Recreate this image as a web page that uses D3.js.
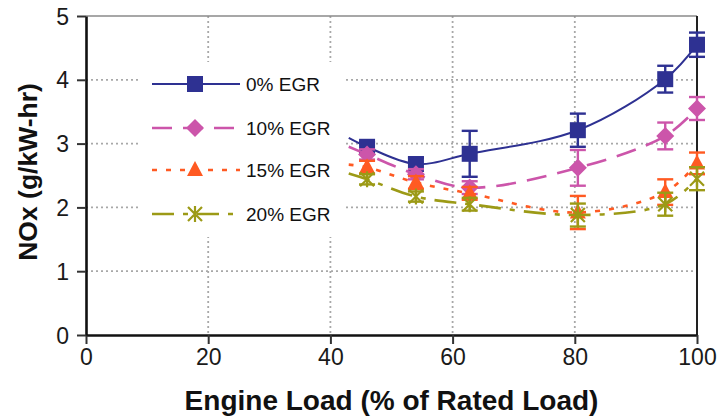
<!DOCTYPE html>
<html>
<head>
<meta charset="utf-8">
<script src="https://cdn.jsdelivr.net/npm/d3@7/dist/d3.min.js"></script>
<style>
  html, body { margin: 0; padding: 0; background: #fff; }
  svg { display: block; font-family: "Liberation Sans", Arial, sans-serif; }
</style>
</head>
<body>
<svg id="chart" width="719" height="416"></svg>
<script>
// Engine load (% of rated load) at each test point
const loads = [46, 54, 62.8, 80.5, 94.8, 100];

// NOx (g/kW-hr) and error half-widths per EGR rate
const nox0  = [2.95, 2.68, 2.84, 3.21, 4.01, 4.55];
const err0  = [0.08, 0.10, 0.36, 0.26, 0.21, 0.19];
const nox10 = [2.83, 2.52, 2.31, 2.62, 3.12, 3.55];
const err10 = [0.08, 0.08, 0.10, 0.28, 0.21, 0.18];
const nox15 = [2.63, 2.39, 2.22, 1.92, 2.24, 2.69];
const err15 = [0.10, 0.10, 0.10, 0.26, 0.20, 0.17];
const nox20 = [2.44, 2.17, 2.05, 1.88, 2.05, 2.45];
const err20 = [0.08, 0.08, 0.10, 0.18, 0.18, 0.18];

// Smoothed curves begin a little before the first measured load
const leadLoad = 43;
const leadNox = [3.09, 2.95, 2.67, 2.53];

const seriesNames = ["0% EGR", "10% EGR", "15% EGR", "20% EGR"];
const xTicks = [0, 20, 40, 60, 80, 100];
const yTicks = [0, 1, 2, 3, 4, 5];

const styles = [
  { color: "#2E3192", dash: null,        width: 2,   marker: "square" },
  { color: "#CC55AA", dash: "20,11",     width: 2.6, marker: "diamond" },
  { color: "#FF5A22", dash: "5,9",       width: 2.6, marker: "triangle" },
  { color: "#9C9A16", dash: "22,9,5,9",  width: 2.6, marker: "star" }
];

const values = [nox0, nox10, nox15, nox20];
const errors = [err0, err10, err15, err20];
const series = seriesNames.map((name, i) => ({
  name,
  style: styles[i],
  points: loads.map((x, j) => ({ x, y: values[i][j], e: errors[i][j] })),
  curve: [{ x: leadLoad, y: leadNox[i] }].concat(loads.map((x, j) => ({ x, y: values[i][j] })))
}));

const svg = d3.select("#chart");
const plotLeft = 86, plotRight = 697, plotTop = 16, plotBottom = 335;

const x = d3.scaleLinear().domain([0, 100]).range([plotLeft, plotRight]);
const y = d3.scaleLinear().domain([0, 5]).range([plotBottom, plotTop]);

// Dotted gridlines
const grid = svg.append("g").attr("stroke", "#a8a8a8").attr("stroke-width", 1.8)
  .attr("stroke-dasharray", "2,3");
grid.selectAll("line.v").data(xTicks.slice(1, -1)).join("line").attr("class", "v")
  .attr("x1", d => x(d)).attr("x2", d => x(d)).attr("y1", plotTop).attr("y2", plotBottom);
grid.selectAll("line.h").data(yTicks.slice(1, -1)).join("line").attr("class", "h")
  .attr("x1", plotLeft).attr("x2", plotRight).attr("y1", d => y(d)).attr("y2", d => y(d));

// Plot frame: top and right edges
svg.append("line").attr("x1", plotLeft).attr("x2", plotRight).attr("y1", plotTop).attr("y2", plotTop)
  .attr("stroke", "#8a8a8a").attr("stroke-width", 1.5);
svg.append("line").attr("x1", plotRight).attr("x2", plotRight).attr("y1", plotTop).attr("y2", plotBottom)
  .attr("stroke", "#222").attr("stroke-width", 2);

// Legend backdrop hides the gridlines behind it
svg.append("rect").attr("x", 138).attr("y", 62).attr("width", 206).attr("height", 175)
  .attr("fill", "#fff");

// Axes
const xAxis = svg.append("g").attr("transform", `translate(0,${plotBottom})`)
  .call(d3.axisBottom(x).tickValues(xTicks).tickFormat(d3.format("d"))
    .tickSize(9).tickSizeOuter(0).tickPadding(5));
const yAxis = svg.append("g").attr("transform", `translate(${plotLeft},0)`)
  .call(d3.axisLeft(y).tickValues(yTicks).tickFormat(d3.format("d"))
    .tickSize(9).tickSizeOuter(0).tickPadding(8));
[xAxis, yAxis].forEach(g => {
  g.select(".domain").attr("stroke", "#111").attr("stroke-width", 2.6);
  g.selectAll(".tick line").attr("stroke", "#333").attr("stroke-width", 2);
  g.selectAll(".tick text").attr("font-size", 23).attr("fill", "#1a1a1a")
    .attr("font-family", "Liberation Sans, Arial, sans-serif");
});
yAxis.selectAll(".tick text").attr("dy", "0.35em");

// Axis titles
svg.append("text").attr("x", (plotLeft + plotRight) / 2).attr("y", 410)
  .attr("text-anchor", "middle").attr("font-size", 28).attr("font-weight", "bold")
  .attr("fill", "#111").text("Engine Load (% of Rated Load)");
svg.append("text").attr("transform", "translate(37,172) rotate(-90)")
  .attr("text-anchor", "middle").attr("font-size", 26.5).attr("font-weight", "bold")
  .attr("fill", "#111").text("NOx (g/kW-hr)");

// Marker shapes
function drawMarker(g, type, color, cx, cy) {
  if (type === "square") {
    g.append("rect").attr("x", cx - 8).attr("y", cy - 8).attr("width", 16).attr("height", 16)
      .attr("fill", color);
  } else if (type === "diamond") {
    g.append("path").attr("d", `M${cx},${cy - 9}L${cx + 9},${cy}L${cx},${cy + 9}L${cx - 9},${cy}Z`)
      .attr("fill", color);
  } else if (type === "triangle") {
    g.append("path").attr("d", `M${cx},${cy - 9}L${cx + 8},${cy + 6}L${cx - 8},${cy + 6}Z`)
      .attr("fill", color);
  } else if (type === "star") {
    const r = 7;
    g.append("path")
      .attr("d", `M${cx - r},${cy - r}L${cx + r},${cy + r}M${cx - r},${cy + r}L${cx + r},${cy - r}M${cx},${cy - r - 1}L${cx},${cy + r + 1}`)
      .attr("stroke", color).attr("stroke-width", 2.2).attr("fill", "none");
  }
}

const line = d3.line().x(d => x(d.x)).y(d => y(d.y)).curve(d3.curveCatmullRom.alpha(0.5));
const cap = 8;

series.forEach(s => {
  const g = svg.append("g");
  g.append("path").datum(s.curve).attr("d", line)
    .attr("fill", "none").attr("stroke", s.style.color).attr("stroke-width", s.style.width)
    .attr("stroke-dasharray", s.style.dash);
  // Error bars
  const eb = g.append("g").attr("stroke", s.style.color).attr("stroke-width", 2.4);
  s.points.forEach(p => {
    const px = x(p.x), y1 = y(p.y + p.e), y2 = y(p.y - p.e);
    eb.append("line").attr("x1", px).attr("x2", px).attr("y1", y1).attr("y2", y2);
    eb.append("line").attr("x1", px - cap).attr("x2", px + cap).attr("y1", y1).attr("y2", y1);
    eb.append("line").attr("x1", px - cap).attr("x2", px + cap).attr("y1", y2).attr("y2", y2);
  });
  s.points.forEach(p => drawMarker(g, s.style.marker, s.style.color, x(p.x), y(p.y)));
});

// Legend
const legendRows = [84, 128, 170, 214];
series.forEach((s, i) => {
  const g = svg.append("g");
  const ly = legendRows[i];
  g.append("line").attr("x1", 152).attr("x2", 240).attr("y1", ly).attr("y2", ly)
    .attr("stroke", s.style.color).attr("stroke-width", s.style.width)
    .attr("stroke-dasharray", s.style.dash);
  drawMarker(g, s.style.marker, s.style.color, 195, ly);
  g.append("text").attr("x", 246).attr("y", ly).attr("dy", "0.36em")
    .attr("font-size", 19).attr("fill", "#111").text(s.name);
});
</script>
</body>
</html>
